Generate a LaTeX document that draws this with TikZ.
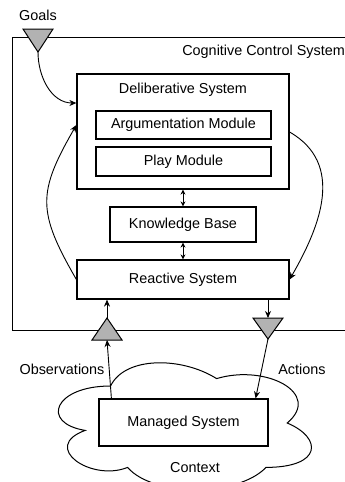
\documentclass[tikz,border=0pt]{standalone}
\usepackage{fontspec}
\setmainfont{Liberation Sans}
\usetikzlibrary{arrows.meta}

\tikzset{
	box/.style={draw, line width=1.2pt, inner sep=0pt, font=\fontsize{14.4}{17}\selectfont},
	lbl/.style={inner sep=0pt, font=\fontsize{14.4}{17}\selectfont},
	tri/.style={draw, line width=1pt, fill=gray!60},
	conn/.style={line width=0.9pt, -{Stealth[length=7pt,width=6pt]}},
	twoway/.style={line width=0.9pt, {Stealth[length=5pt,width=5pt]}-{Stealth[length=5pt,width=5pt]}},
}

\begin{document}
\begin{tikzpicture}[x=1pt, y=-1pt]
	\useasboundingbox (0,0) rectangle (345,482);

	% frame of the control system
	\draw[line width=1pt] (380,37) -- (12,37) -- (12,330) -- (380,330);
	\node[lbl, anchor=east] (ccs) at (345,52) {Cognitive Control System};

	\node[box, minimum width=212pt, minimum height=115pt] (delib) at (183,131.5) {};
	\node[lbl] (delibtitle) at (183,90) {Deliberative System};
	\node[box, minimum width=175pt, minimum height=28pt] (arg) at (183.5,125) {Argumentation Module};
	\node[box, minimum width=175pt, minimum height=29pt] (play) at (183.5,161.5) {Play Module};
	\node[box, minimum width=146pt, minimum height=35pt] (kb) at (183,224.5) {Knowledge Base};
	\node[box, minimum width=212pt, minimum height=39pt] (react) at (183,279.5) {Reactive System};

	% context cloud
	\draw[line width=1pt] (110.6,386)
		.. controls (54.1,386) and (40,423) .. (85.2,430.4)
		.. controls (40,446.7) and (90.9,482.2) .. (127.6,467.4)
		.. controls (153,497) and (237.8,497) .. (266,467.4)
		.. controls (322.5,467.4) and (322.5,437.8) .. (287.2,423)
		.. controls (322.5,393.4) and (266,363.8) .. (216.6,378.6)
		.. controls (181.25,356.4) and (124.75,356.4) .. (110.6,386) -- cycle;
	\node[lbl] (context) at (195,468) {Context};
	\node[box, fill=white, minimum width=169pt, minimum height=47pt] (managed) at (183.5,422.5) {Managed System};

	% ports
	\filldraw[tri] (23,29) -- (53,29) -- (38,52) -- cycle;
	\filldraw[tri] (92,340) -- (122,340) -- (107,318) -- cycle;
	\filldraw[tri] (253,318) -- (283,318) -- (268,339) -- cycle;
	\coordinate (goalstip) at (38,52);
	\coordinate (obstop) at (107,318);
	\coordinate (obsbase) at (107,340);
	\coordinate (acttop) at (268,318);
	\coordinate (acttip) at (268,339);

	\node[lbl] (goals) at (38,15) {Goals};
	\node[lbl] (obs) at (62,369) {Observations};
	\node[lbl] (act) at (302,369) {Actions};

	\foreach \a/\b in {delib/kb, kb/react} {
		\draw[twoway] (\a.south) -- (\b.north);
	}

	\draw[conn] (goalstip) to[out=-90, in=180] ([yshift=28.5pt]delib.west);
	\draw[conn] (react.west) to[out=120, in=-120, looseness=1.3] ([yshift=6.5pt]delib.west);
	\draw[conn] ([yshift=-0.5pt]delib.east) to[out=-30, in=60, looseness=1.1] (react.east);

	\draw[conn] (obstop) -- (react.south -| obstop);
	\draw[conn] ([xshift=13pt]managed.north west) -- (obsbase);
	\draw[conn] (react.south -| acttop) -- (acttop);
	\draw[conn] (acttip) -- ([xshift=-13pt]managed.north east);
\end{tikzpicture}
\end{document}
